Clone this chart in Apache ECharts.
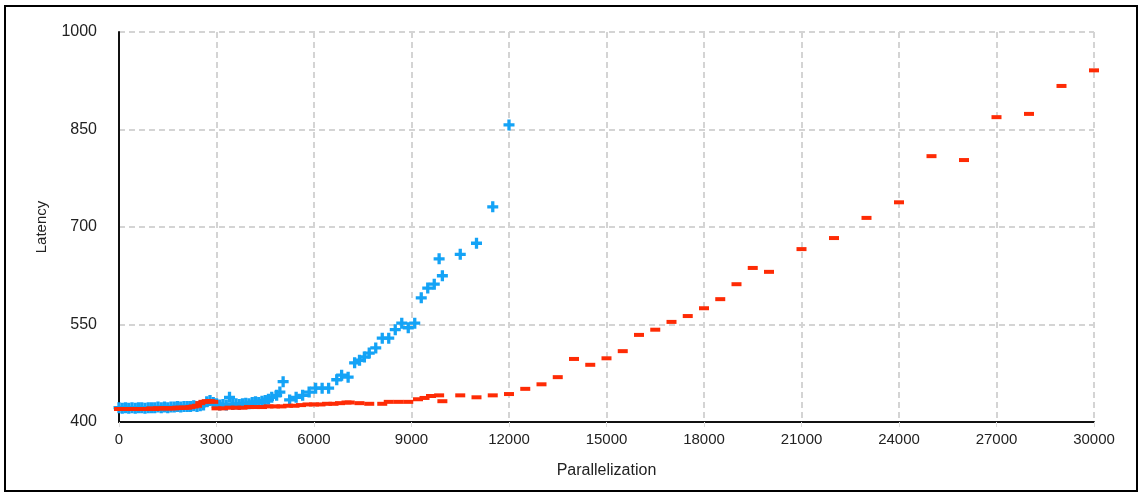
<!DOCTYPE html>
<html>
<head>
<meta charset="utf-8">
<script src="https://cdn.jsdelivr.net/npm/echarts@6/dist/echarts.min.js"></script>
<style>
html,body{margin:0;padding:0;background:#fff;}
#frame{position:absolute;left:4px;top:5px;width:1130px;height:483px;border:2px solid #000;}
#chart{position:absolute;left:0;top:0;width:1141px;height:495px;}
</style>
</head>
<body>
<div id="frame"></div>
<div id="chart"></div>
<script>
// Blue series (plus markers)
var blueX = [0,100,200,300,400,500,600,700,800,900,1000,
  1100,1200,1300,1400,1500,1600,1700,1800,1900,2000,
  2100,2200,2300,2400,2500,2600,2700,2800,2900,3000,
  3100,3200,3300,3400,3500,3600,3700,3800,3900,4000,4100,4200,4300,4400,4500,4600,
  4700,4850,4950,5050,5250,5450,5650,5850,6050,6250,6450,6700,6850,7050,
  7250,7400,7550,7700,7900,8100,8300,8500,8700,8900,9100,9300,9500,9700,9850,9950,
  10500,11000,11500,12000];
var blueY = [422,421,422,421,422,421,422,422,421,422,422,
  422,423,422,423,422,423,423,424,423,424,
  424,424,425,424,425,426,431,433,430,428,
  426,427,426,438,427,428,427,428,429,428,430,431,430,432,433,435,
  438,441,446,462,434,438,441,446,452,452,452,465,472,469,
  491,495,500,506,514,529,529,542,552,545,552,591,606,612,651,625,
  658,675,731,857];
// Red series (dash markers)
var redX = [0,100,200,300,400,500,600,700,800,900,1000,1100,1200,1300,1400,1500,1600,1700,1800,1900,2000,2100,2200,2300,2400,
  2500,2600,2700,2800,2900,
  3000,3200,3400,3600,3800,4000,4200,4400,4600,4800,5000,5200,5400,5600,5800,6000,6200,6400,6600,6800,
  7000,7100,7400,7700,8100,8300,8600,8900,9200,9400,9600,9850,9950,
  10500,11000,11500,12000,12500,13000,13500,14000,14500,15000,15500,16000,16500,17000,17500,18000,18500,19000,19500,20000,
  21000,22000,23000,24000,25000,26000,27000,28000,29000,30000];
var redY = [420,420,420,420,420,420,420,420,420,420,421,420,421,421,421,421,421,421,422,422,422,422,423,424,425,
  429,431,432,432,431,
  421,421,422,422,422,423,423,423,424,424,424,425,425,426,427,427,427,428,428,429,
  430,430,429,428,428,431,431,431,435,437,440,441,432,
  441,438,441,443,451,458,469,497,488,498,509,534,542,554,563,575,589,612,637,631,
  666,683,714,738,809,803,869,874,917,941];
var xTicks = {min:0, max:30000, interval:3000};
var yTicks = {min:400, max:1000, interval:150};

function pairs(xs, ys){ var out=[]; for(var i=0;i<xs.length;i++) out.push([xs[i], ys[i]]); return out; }

var chart = echarts.init(document.getElementById('chart'), null, {renderer:'canvas'});
var font = '"Liberation Sans", Arial, Helvetica, sans-serif';
var gridLine = {color:'#d4d4d4', type:[6,4], width:2};
chart.setOption({
  animation:false,
  grid:{left:119, right:47, top:32, bottom:73, containLabel:false},
  xAxis:{type:'value', min:xTicks.min, max:xTicks.max, interval:xTicks.interval,
    name:'Parallelization', nameLocation:'middle', nameGap:41,
    nameTextStyle:{fontFamily:font, fontSize:16, color:'#222'},
    axisLine:{show:true, onZero:false, lineStyle:{color:'#111', width:2}},
    axisTick:{show:true, length:5, lineStyle:{color:'#ddd'}},
    axisLabel:{fontFamily:font, fontSize:15, color:'#222', margin:10,
      formatter:function(v){return String(v);}},
    splitLine:{show:true, lineStyle:gridLine}},
  yAxis:{type:'value', min:yTicks.min, max:yTicks.max, interval:yTicks.interval,
    name:'Latency', nameLocation:'middle', nameGap:70,
    nameTextStyle:{fontFamily:font, fontSize:15, color:'#222'},
    axisLine:{show:true, onZero:false, lineStyle:{color:'#111', width:2}},
    axisTick:{show:false},
    axisLabel:{fontFamily:font, fontSize:16, color:'#222', margin:22,
      formatter:function(v){return String(v);}},
    splitLine:{show:true, lineStyle:gridLine}},
  series:[
    {type:'scatter', data:pairs(blueX, blueY),
     symbol:'path://M3.5,0H6.5V3.5H10V6.5H6.5V10H3.5V6.5H0V3.5H3.5Z', symbolSize:11,
     itemStyle:{color:'#14a3f6', opacity:1}, z:2},
    {type:'scatter', data:pairs(redX, redY),
     symbol:'rect', symbolSize:[10,4],
     itemStyle:{color:'#fe2b05', opacity:1}, z:3}
  ]
});
</script>
</body>
</html>
